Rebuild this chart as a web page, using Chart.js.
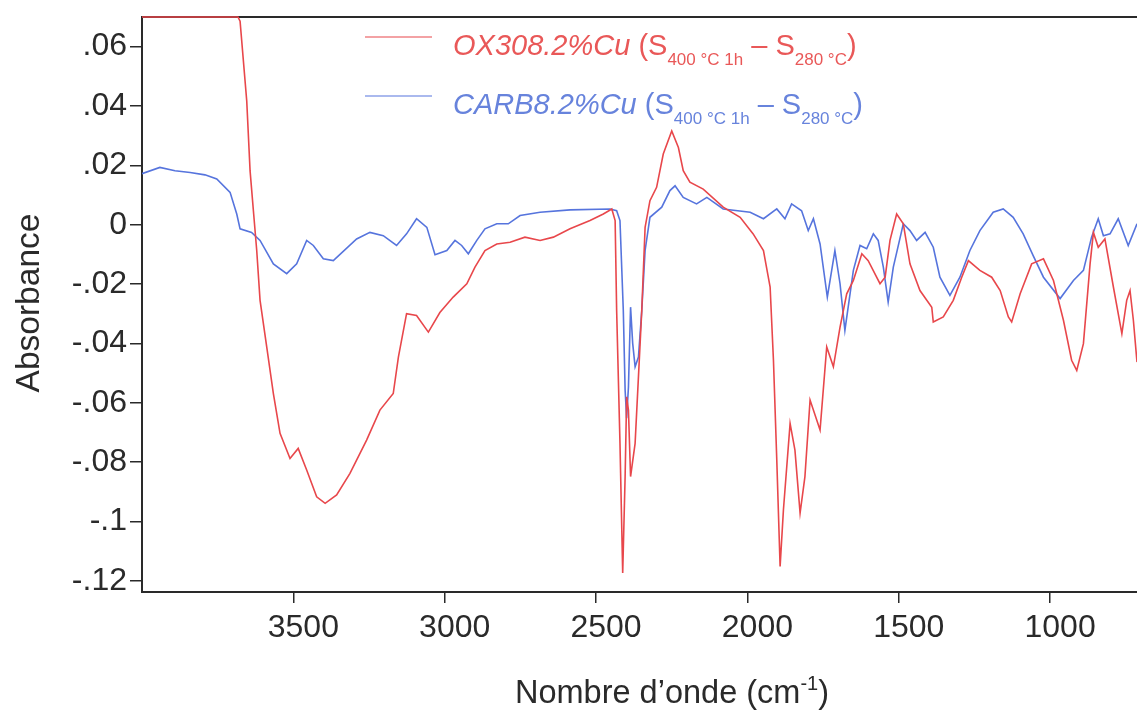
<!DOCTYPE html>
<html>
<head>
<meta charset="utf-8">
<script src="https://cdn.jsdelivr.net/npm/chart.js@4.4.1/dist/chart.umd.min.js"></script>
<style>
  html, body { margin: 0; padding: 0; background: #fff; }
  canvas { display: block; }
</style>
</head>
<body>
<canvas id="spectrum" width="1137" height="710"></canvas>
<script>
// OX308.2%Cu (red) - wavenumber (cm-1) and absorbance
const oxWavenumbers = [4000, 3683, 3676, 3654, 3643, 3632, 3621, 3610, 3588, 3566,
  3544, 3511, 3484, 3456, 3423, 3395, 3357, 3313, 3258, 3214,
  3170, 3153, 3126, 3093, 3054, 3016, 2972, 2927, 2900, 2867,
  2828, 2784, 2735, 2685, 2641, 2586, 2520, 2476, 2448, 2437,
  2432, 2421, 2412, 2404, 2399, 2393, 2386, 2371, 2360, 2349,
  2338, 2322, 2300, 2278, 2250, 2228, 2212, 2190, 2146, 2080,
  2024, 1981, 1947, 1931, 1925, 1914, 1903, 1892, 1881, 1859,
  1843, 1826, 1810, 1793, 1760, 1738, 1716, 1694, 1672, 1650,
  1622, 1601, 1562, 1545, 1529, 1507, 1485, 1463, 1430, 1391,
  1386, 1353, 1320, 1292, 1270, 1232, 1193, 1165, 1138, 1127,
  1099, 1061, 1022, 989, 956, 929, 912, 890, 868, 857,
  841, 819, 791, 763, 747, 736, 725, 713]
const oxAbsorbance = [0.07, 0.07, 0.0686, 0.0417, 0.0182, 0.0047, -0.0087, -0.0255, -0.0412, -0.0569,
  -0.0703, -0.0788, -0.0754, -0.0827, -0.0917, -0.0939, -0.0911, -0.0838, -0.0726, -0.0625,
  -0.0569, -0.0446, -0.0300, -0.0306, -0.0362, -0.0296, -0.0244, -0.0199, -0.0143, -0.0087,
  -0.0065, -0.0059, -0.0042, -0.0053, -0.0042, -0.0014, 0.0014, 0.0036, 0.0053, 0.0014,
  -0.0289, -0.0737, -0.1174, -0.0849, -0.0580, -0.0625, -0.0849, -0.0737, -0.0513, -0.0289,
  -0.0009, 0.0081, 0.0126, 0.0238, 0.0316, 0.0260, 0.0182, 0.0143, 0.0120, 0.0059,
  0.0025, -0.0031, -0.0087, -0.0177, -0.0210, -0.0457, -0.0793, -0.1152, -0.0961, -0.0670,
  -0.0760, -0.0972, -0.0849, -0.0591, -0.0692, -0.0412, -0.0479, -0.0345, -0.0233, -0.0188,
  -0.0098, -0.0121, -0.0199, -0.0177, -0.0053, 0.0036, 0.0003, -0.0132, -0.0222, -0.0278,
  -0.0328, -0.0311, -0.0255, -0.0177, -0.0121, -0.0154, -0.0177, -0.0222, -0.0311, -0.0328,
  -0.0233, -0.0132, -0.0115, -0.0188, -0.0322, -0.0457, -0.0491, -0.0401, -0.0132, -0.0026,
  -0.0076, -0.0048, -0.0210, -0.0367, -0.0255, -0.0222, -0.0322, -0.0463]

// CARB8.2%Cu (blue)
const carbWavenumbers = [4000, 3941, 3891, 3841, 3792, 3753, 3709, 3687, 3676, 3638,
  3610, 3566, 3522, 3489, 3456, 3434, 3401, 3368, 3291, 3247,
  3203, 3159, 3126, 3093, 3059, 3032, 2993, 2966, 2944, 2922,
  2894, 2867, 2828, 2790, 2751, 2685, 2586, 2454, 2432, 2421,
  2410, 2404, 2399, 2393, 2386, 2379, 2371, 2360, 2349, 2338,
  2322, 2283, 2256, 2239, 2212, 2168, 2134, 2080, 1991, 1947,
  1903, 1876, 1854, 1821, 1799, 1782, 1760, 1736, 1711, 1694,
  1678, 1650, 1628, 1606, 1584, 1568, 1551, 1535, 1518, 1485,
  1463, 1441, 1413, 1386, 1364, 1331, 1298, 1265, 1232, 1188,
  1155, 1122, 1089, 1056, 1022, 967, 923, 890, 863, 841,
  824, 802, 775, 742, 713]
const carbAbsorbance = [0.0172, 0.0193, 0.0182, 0.0176, 0.0168, 0.0154, 0.0109, 0.0036, -0.0014, -0.0026,
  -0.0053, -0.0132, -0.0165, -0.0132, -0.0053, -0.0070, -0.0115, -0.0121, -0.0048, -0.0026,
  -0.0037, -0.0070, -0.0031, 0.0020, -0.0009, -0.0101, -0.0087, -0.0053, -0.0070, -0.0098,
  -0.0053, -0.0014, 0.0003, 0.0003, 0.0031, 0.0042, 0.0050, 0.0053, 0.0047, 0.0014,
  -0.0289, -0.0558, -0.0652, -0.0547, -0.0278, -0.0400, -0.0479, -0.0446, -0.0289, -0.0087,
  0.0025, 0.0059, 0.0115, 0.0131, 0.0092, 0.0070, 0.0092, 0.0053, 0.0042, 0.0020,
  0.0053, 0.0020, 0.0070, 0.0047, -0.0020, 0.0020, -0.0065, -0.0244, -0.0087, -0.0199,
  -0.0356, -0.0154, -0.0070, -0.0081, -0.0031, -0.0053, -0.0143, -0.0261, -0.0143, 0.0003,
  -0.0020, -0.0053, -0.0026, -0.0076, -0.0177, -0.0238, -0.0177, -0.0087, -0.0020, 0.0042,
  0.0053, 0.0025, -0.0031, -0.0104, -0.0177, -0.0249, -0.0188, -0.0154, -0.0042, 0.0020,
  -0.0037, -0.0031, 0.0020, -0.0070, 0.0003]

const xTicks = [3500, 3000, 2500, 2000, 1500, 1000]
const yTicks = [-0.12, -0.1, -0.08, -0.06, -0.04, -0.02, 0, 0.02, 0.04, 0.06]

const RED = '#e8474b'
const BLUE = '#5674dd'
const AXIS = '#2a2a2a'
const FONT = '"Liberation Sans", Arial, Helvetica, sans-serif'

function toPoints(xs, ys) {
  return xs.map((x, i) => ({ x: x, y: ys[i] }))
}

// ".06", "-.1", "0"
function shortNumber(v) {
  var s = String(Math.round(v * 100) / 100)
  return s.replace(/^(-?)0\./, '$1.')
}

// draws a run of text pieces, some italic, some sub/superscript
function drawRich(ctx, x, y, parts, color, size, smallSize) {
  ctx.fillStyle = color
  ctx.textAlign = 'left'
  ctx.textBaseline = 'alphabetic'
  parts.forEach(p => {
    var px = (p.sub || p.sup) ? smallSize : size
    var dy = p.sub ? size * 0.33 : (p.sup ? -size * 0.4 : 0)
    ctx.font = (p.italic ? 'italic ' : '') + px + 'px ' + FONT
    ctx.fillText(p.t, x, y + dy)
    x += ctx.measureText(p.t).width
  })
}

const frame = {
  id: 'frame',
  beforeDatasetsDraw(chart) {
    const ctx = chart.ctx
    const a = chart.chartArea
    // top frame line, under the curves
    ctx.save()
    ctx.strokeStyle = AXIS
    ctx.lineWidth = 2
    ctx.beginPath()
    ctx.moveTo(a.left - 1, a.top)
    ctx.lineTo(a.right, a.top)
    ctx.stroke()
    ctx.restore()
  },
  afterDraw(chart) {
    const ctx = chart.ctx
    ctx.save()

    // legend
    const entries = [
      { color: RED, text: '#e95858', name: 'OX308.2%Cu', lineY: 37, baseY: 55 },
      { color: BLUE, text: '#6783dc', name: 'CARB8.2%Cu', lineY: 96, baseY: 114 }
    ]
    entries.forEach(e => {
      ctx.strokeStyle = e.color
      ctx.lineWidth = 1.2
      ctx.beginPath()
      ctx.moveTo(365, e.lineY)
      ctx.lineTo(432, e.lineY)
      ctx.stroke()
      drawRich(ctx, 453, e.baseY, [
        { t: e.name, italic: true },
        { t: ' (S' },
        { t: '400 °C 1h', sub: true },
        { t: ' – S' },
        { t: '280 °C', sub: true },
        { t: ')' }
      ], e.text, 29, 17)
    })

    // y title
    ctx.save()
    ctx.translate(39, 303)
    ctx.rotate(-Math.PI / 2)
    ctx.font = '33.5px ' + FONT
    ctx.fillStyle = AXIS
    ctx.textAlign = 'center'
    ctx.textBaseline = 'alphabetic'
    ctx.fillText('Absorbance', 0, 0)
    ctx.restore()

    // x title
    drawRich(ctx, 515, 703, [
      { t: 'Nombre d’onde (cm' },
      { t: '-1', sup: true },
      { t: ')' }
    ], AXIS, 32.5, 20)

    ctx.restore()
  }
}

new Chart(document.getElementById('spectrum'), {
  type: 'line',
  data: {
    datasets: [
      {
        label: 'OX308.2%Cu',
        data: toPoints(oxWavenumbers, oxAbsorbance),
        borderColor: RED,
        borderWidth: 1.6,
        pointRadius: 0,
        tension: 0,
        fill: false,
        clip: false
      },
      {
        label: 'CARB8.2%Cu',
        data: toPoints(carbWavenumbers, carbAbsorbance),
        borderColor: BLUE,
        borderWidth: 1.6,
        pointRadius: 0,
        tension: 0,
        fill: false
      }
    ]
  },
  options: {
    responsive: false,
    animation: false,
    devicePixelRatio: 1,
    layout: { padding: { top: 17, right: 0, left: 0, bottom: 0 } },
    plugins: {
      legend: { display: false },
      tooltip: { enabled: false }
    },
    scales: {
      x: {
        type: 'linear',
        reverse: true,
        min: 713,
        max: 4000,
        afterBuildTicks: scale => { scale.ticks = xTicks.map(v => ({ value: v })) },
        afterFit: scale => {
          scale.height = 118
          scale.paddingLeft = 0
          scale.paddingRight = 0
        },
        border: { display: true, color: AXIS, width: 2 },
        grid: { display: true, drawOnChartArea: false, drawTicks: true, tickLength: 11, color: AXIS, lineWidth: 1.5 },
        ticks: {
          color: AXIS,
          font: { family: FONT, size: 32 },
          padding: 6,
          labelOffset: 10,
          maxRotation: 0,
          autoSkip: false,
          callback: v => String(v)
        }
      },
      y: {
        type: 'linear',
        min: -0.1238,
        max: 0.07,
        afterBuildTicks: scale => { scale.ticks = yTicks.map(v => ({ value: v })) },
        afterFit: scale => {
          scale.width = 142
          scale.paddingTop = 0
          scale.paddingBottom = 0
        },
        border: { display: true, color: AXIS, width: 2 },
        grid: { display: true, drawOnChartArea: false, drawTicks: true, tickLength: 12, color: AXIS, lineWidth: 1.5 },
        ticks: {
          color: AXIS,
          font: { family: FONT, size: 32 },
          padding: 3,
          autoSkip: false,
          callback: v => shortNumber(v)
        }
      }
    }
  },
  plugins: [frame]
})
</script>
</body>
</html>
